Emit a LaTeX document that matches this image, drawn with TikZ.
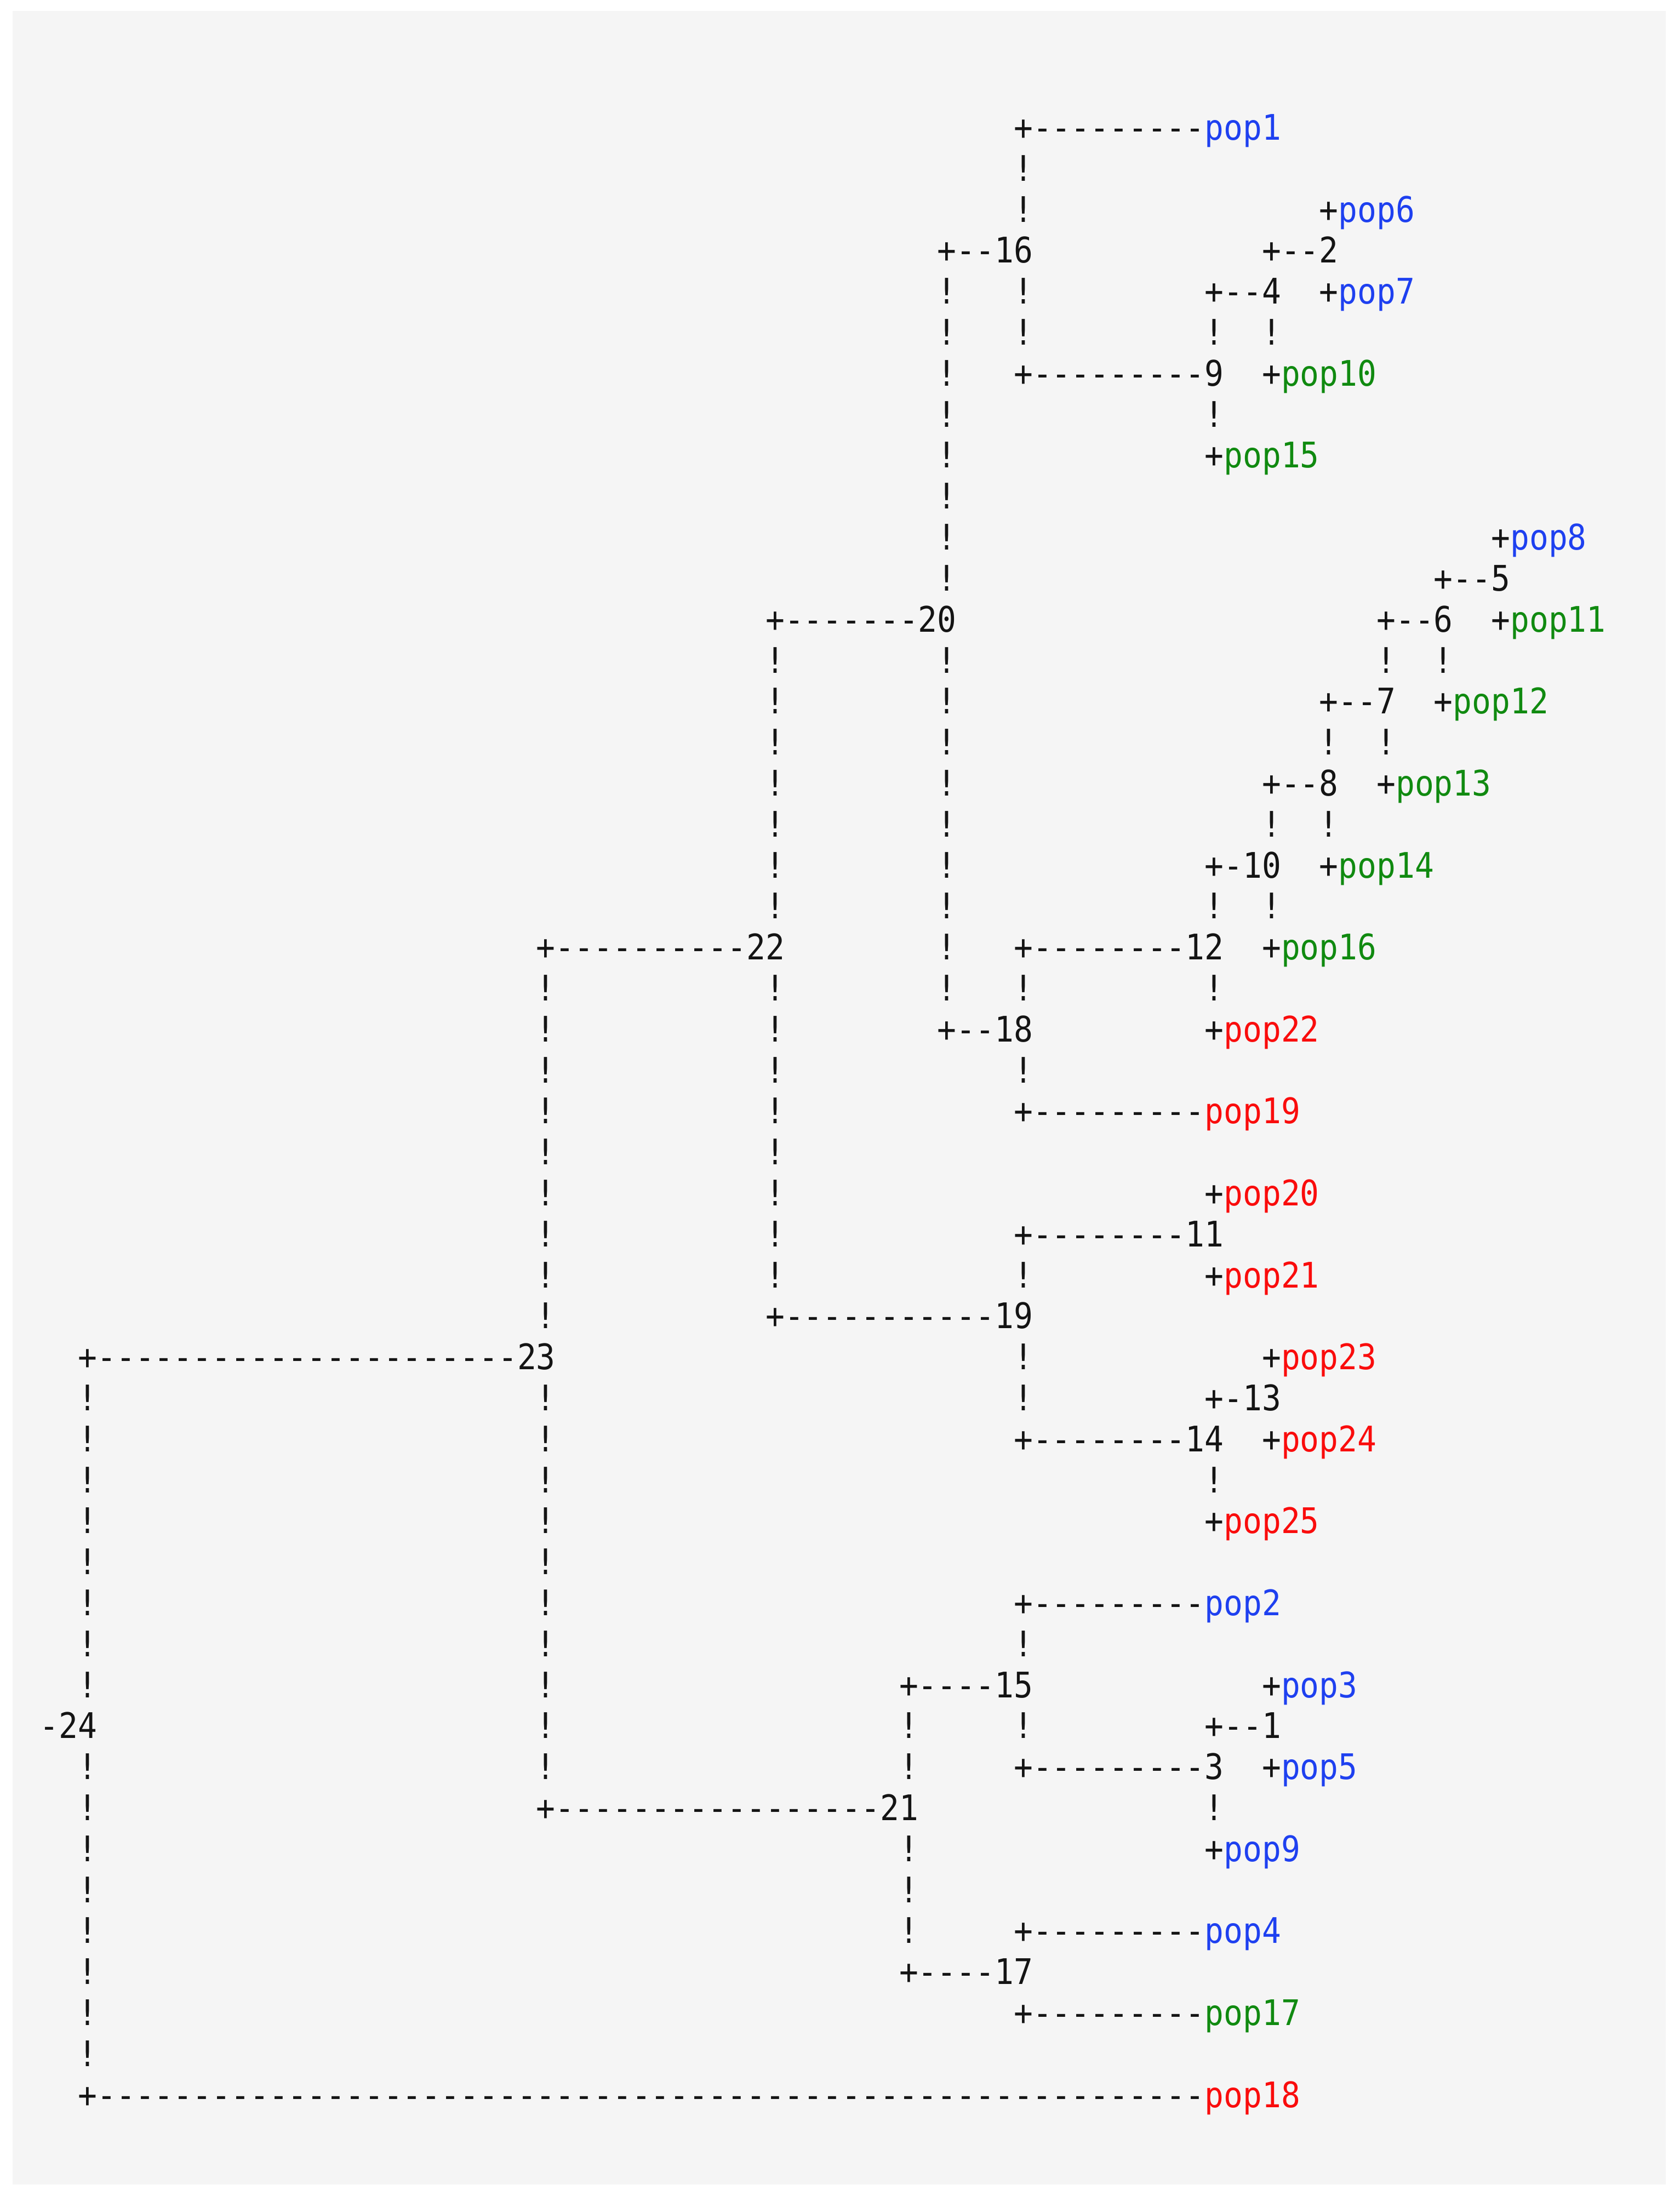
\documentclass[tikz,border=0pt]{standalone}
\usepackage{fontspec}
\newfontfamily\treefont[FakeStretch=0.90,Ligatures=TeXOff]{DejaVu Sans Mono}
\definecolor{bgc}{RGB}{245,245,245}
\definecolor{popblue}{RGB}{30,64,240}
\definecolor{popgreen}{RGB}{16,138,16}
\definecolor{popred}{RGB}{250,12,12}
\definecolor{treeink}{RGB}{20,20,20}
\newcommand\popB[1]{\textcolor{popblue}{#1}}
\newcommand\popG[1]{\textcolor{popgreen}{#1}}
\newcommand\popR[1]{\textcolor{popred}{#1}}
\newcommand\seg[4]{\node[t] (#1) at ({#2-0.5},#3) {#4};}
\begin{document}
\begin{tikzpicture}[
  t/.style={font={\treefont\fontsize{18.3pt}{22pt}\selectfont}, inner sep=0pt, outer sep=0pt, anchor=mid west, text=treeink}
]
\fill[white] (0,0) rectangle (30.66,-40.08);
\fill[bgc] (0.23,-0.20) rectangle (30.40,-39.87);
\useasboundingbox (0,0) rectangle (30.66,-40.08);
\begin{scope}[shift={(1.6,-2.48)}, x=0.3485cm, y=-0.748cm]
% vertical bars
\foreach \r in {31,32,33,34,35,36,37,38,40,41,42,43,44,45,46,47} \node[t] (v0-\r) at (-0.5,\r) {!};
\foreach \r in {21,22,23,24,25,26,27,28,29,31,32,33,34,35,36,37,38,39,40} \node[t] (v24-\r) at (23.5,\r) {!};
\foreach \r in {13,14,15,16,17,18,19,21,22,23,24,25,26,27,28} \node[t] (v36-\r) at (35.5,\r) {!};
\foreach \r in {39,40,42,43,44} \node[t] (v43-\r) at (42.5,\r) {!};
\foreach \r in {4,5,6,7,8,9,10,11,13,14,15,16,17,18,19,20,21} \node[t] (v45-\r) at (44.5,\r) {!};
\foreach \r in {1,2,4,5,21,23,28,30,31,37,39} \node[t] (v49-\r) at (48.5,\r) {!};
\foreach \r in {5,7,19,21,33,41} \node[t] (v59-\r) at (58.5,\r) {!};
\foreach \r in {5,17,19} \node[t] (v62-\r) at (61.5,\r) {!};
\foreach \r in {15,17} \node[t] (v65-\r) at (64.5,\r) {!};
\foreach \r in {13,15} \node[t] (v68-\r) at (67.5,\r) {!};
\node[t] (v71-13) at (70.5,13) {!};
% horizontal segments
\seg{r0a}{49}{0}{+---------\popB{pop1}}
\seg{r2a}{65}{2}{+\popB{pop6}}
\seg{r3a}{45}{3}{+--16}
\seg{r3b}{62}{3}{+--2}
\seg{r4a}{59}{4}{+--4}
\seg{r4b}{65}{4}{+\popB{pop7}}
\seg{r6a}{49}{6}{+---------9}
\seg{r6b}{62}{6}{+\popG{pop10}}
\seg{r8a}{59}{8}{+\popG{pop15}}
\seg{r10a}{74}{10}{+\popB{pop8}}
\seg{r11a}{71}{11}{+--5}
\seg{r12a}{36}{12}{+-------20}
\seg{r12b}{68}{12}{+--6}
\seg{r12c}{74}{12}{+\popG{pop11}}
\seg{r14a}{65}{14}{+--7}
\seg{r14b}{71}{14}{+\popG{pop12}}
\seg{r16a}{62}{16}{+--8}
\seg{r16b}{68}{16}{+\popG{pop13}}
\seg{r18a}{59}{18}{+-10}
\seg{r18b}{65}{18}{+\popG{pop14}}
\seg{r20a}{24}{20}{+----------22}
\seg{r20b}{49}{20}{+--------12}
\seg{r20c}{62}{20}{+\popG{pop16}}
\seg{r22a}{45}{22}{+--18}
\seg{r22b}{59}{22}{+\popR{pop22}}
\seg{r24a}{49}{24}{+---------\popR{pop19}}
\seg{r26a}{59}{26}{+\popR{pop20}}
\seg{r27a}{49}{27}{+--------11}
\seg{r28a}{59}{28}{+\popR{pop21}}
\seg{r29a}{36}{29}{+-----------19}
\seg{r30a}{0}{30}{+----------------------23}
\seg{r30b}{62}{30}{+\popR{pop23}}
\seg{r31a}{59}{31}{+-13}
\seg{r32a}{49}{32}{+--------14}
\seg{r32b}{62}{32}{+\popR{pop24}}
\seg{r34a}{59}{34}{+\popR{pop25}}
\seg{r36a}{49}{36}{+---------\popB{pop2}}
\seg{r38a}{43}{38}{+----15}
\seg{r38b}{62}{38}{+\popB{pop3}}
\seg{r39a}{-2}{39}{-24}
\seg{r39b}{59}{39}{+--1}
\seg{r40a}{49}{40}{+---------3}
\seg{r40b}{62}{40}{+\popB{pop5}}
\seg{r41a}{24}{41}{+-----------------21}
\seg{r42a}{59}{42}{+\popB{pop9}}
\seg{r44a}{49}{44}{+---------\popB{pop4}}
\seg{r45a}{43}{45}{+----17}
\seg{r46a}{49}{46}{+---------\popG{pop17}}
\seg{r48a}{0}{48}{+----------------------------------------------------------\popR{pop18}}
\end{scope}
\end{tikzpicture}
\end{document}
